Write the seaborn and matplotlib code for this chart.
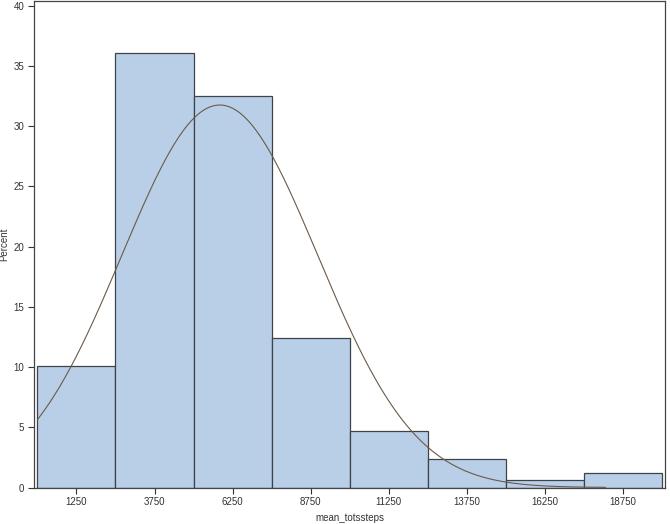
import numpy as np
import pandas as pd
import matplotlib
matplotlib.use("Agg")
import matplotlib.pyplot as plt
import seaborn as sns

# Данные гистограммы (середины интервалов и проценты)
midpoints = [1250, 3750, 6250, 8750, 11250, 13750, 16250, 18750]
percent = [10.1, 36.1, 32.5, 12.4, 4.7, 2.4, 0.6, 1.2]
bin_edges = [0, 2500, 5000, 7500, 10000, 12500, 15000, 17500, 20000]
y_ticks = [0, 5, 10, 15, 20, 25, 30, 35, 40]

# Параметры нормальной кривой (оценены по картинке)
norm_mean = 5840
norm_std = 3140
curve_range = (0, 18200)

sns.set_style("white")
plt.rcParams["font.family"] = ["Liberation Sans", "DejaVu Sans"]

df = pd.DataFrame({"mean_totssteps": midpoints, "percent": percent})

fig = plt.figure(figsize=(6.7, 5.24), dpi=100)
ax = fig.add_axes([34 / 670, 36.5 / 524, 631 / 670, 486.5 / 524])

sns.histplot(data=df, x="mean_totssteps", weights="percent", bins=bin_edges,
             color="#b9cfe8", edgecolor="#3e4249", linewidth=0.9, alpha=1.0, ax=ax)

# Нормальная кривая в процентах на ширину интервала
xs = np.linspace(curve_range[0], curve_range[1], 400)
bw = bin_edges[1] - bin_edges[0]
ys = 100 * bw / (norm_std * np.sqrt(2 * np.pi)) * np.exp(-0.5 * ((xs - norm_mean) / norm_std) ** 2)
sns.lineplot(x=xs, y=ys, color="#6b5a48", linewidth=0.8, ax=ax)

ax.set_xlim(-110, 20100)
ax.set_ylim(0, 40.4)
ax.set_xticks(midpoints)
ax.set_xticklabels([str(m) for m in midpoints])
ax.set_yticks(y_ticks)
ax.tick_params(axis="both", direction="out", length=4, width=0.8, color="#333333",
               labelsize=7, labelcolor="#333333", pad=3, bottom=True, left=True)
for s in ax.spines.values():
    s.set_color("#444444")
    s.set_linewidth(0.9)

ax.set_xlabel("mean_totssteps", fontsize=7, color="#333333", labelpad=4)
ax.set_ylabel("Percent", fontsize=7, color="#333333", labelpad=3)

fig.savefig("out.png", dpi=100)
